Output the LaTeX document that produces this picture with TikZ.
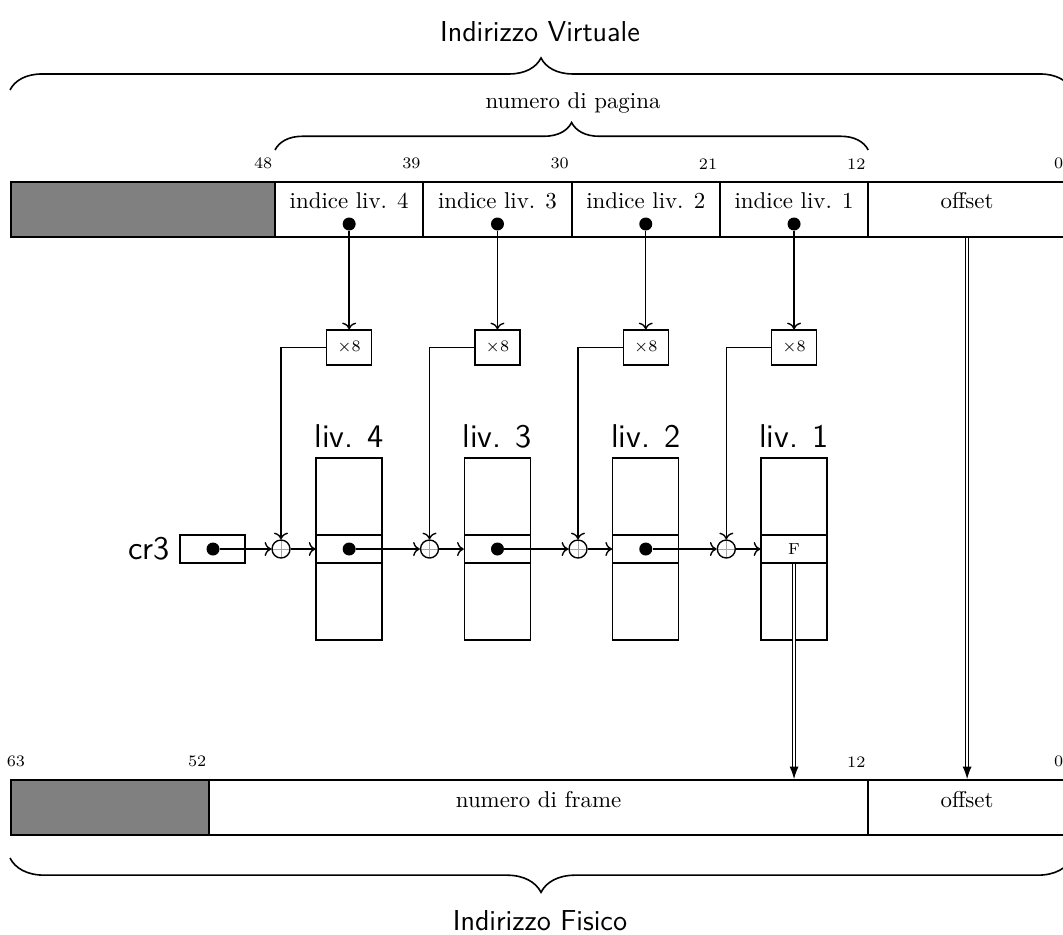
\documentclass[tikz,border=0pt]{standalone}
\usetikzlibrary{decorations.pathreplacing,arrows.meta,calc}
\newcommand\upx{0.437pt}
\begin{document}
\begin{tikzpicture}[x=0.437pt,y=-0.437pt,
  barcell/.style={draw,line width=0.8pt,inner sep=0pt,minimum height=55*\upx},
  graycell/.style={barcell,fill=gray},
  bitlbl/.style={font=\scriptsize,inner sep=1pt,anchor=south east},
  celltxt/.style={inner sep=0pt},
  dotn/.style={circle,fill=black,inner sep=0pt,minimum size=13*\upx},
  mulbox/.style={draw,line width=0.6pt,inner sep=0pt,minimum width=45*\upx,minimum height=35*\upx,font=\scriptsize},
  plusn/.style={circle,draw,line width=0.6pt,inner sep=0pt,minimum size=18*\upx,
    path picture={\draw[line width=0.3pt,gray!70]
      (path picture bounding box.north) -- (path picture bounding box.south)
      (path picture bounding box.west) -- (path picture bounding box.east);}},
  tablen/.style={draw,line width=0.6pt,inner sep=0pt,minimum width=66*\upx,minimum height=182*\upx},
  entryn/.style={draw,line width=0.6pt,inner sep=0pt,minimum width=66*\upx,minimum height=28*\upx,font=\scriptsize},
  lvl/.style={font=\sffamily\Large},
  conn/.style={line width=0.6pt,->},
  bigconn/.style={line width=0.5pt,double,double distance=0.7pt,-{Latex[length=5.5pt,width=4pt]}},
  bracedec/.style={decorate,line width=0.7pt}
]
\useasboundingbox (0,0) rectangle (1063,934);

% titles and braces
\node[font=\sffamily\fontsize{12.6}{15}\selectfont] (tv) at (540,32) {Indirizzo Virtuale};
\draw[bracedec,decoration={brace,amplitude=14pt}] (10,90) -- (1072,90);
\node (np) at (573,103) {numero di pagina};
\draw[bracedec,decoration={brace,amplitude=12pt}] (275,150) -- (868.2,150);

% top bar
\node[graycell,minimum width=263.7*\upx] (vg) at (143.15,209.5) {};
\node[barcell,minimum width=148.3*\upx] (i4) at (349.15,209.5) {};
\node[barcell,minimum width=148.3*\upx] (i3) at (497.45,209.5) {};
\node[barcell,minimum width=148.3*\upx] (i2) at (645.75,209.5) {};
\node[barcell,minimum width=148.3*\upx] (i1) at (794.05,209.5) {};
\node[barcell,minimum width=197.8*\upx] (vo) at (967.1,209.5) {};
\node[celltxt] (ti4) at (349.15,201) {indice liv. 4};
\node[celltxt] (ti3) at (497.45,201) {indice liv. 3};
\node[celltxt] (ti2) at (645.75,201) {indice liv. 2};
\node[celltxt] (ti1) at (794.05,201) {indice liv. 1};
\node[celltxt] (tvo) at (967.1,201) {offset};

\node[bitlbl] (b48) at (275,172) {48};
\node[bitlbl] (b39) at (423.3,172) {39};
\node[bitlbl] (b30) at (571.6,172) {30};
\node[bitlbl] (b21) at (719.9,172) {21};
\node[bitlbl] (b12) at (868.2,172) {12};
\node[bitlbl] (b0) at (1066,172) {0};

% dots in index cells
\node[dotn] (d4) at (349.15,224) {};
\node[dotn] (d3) at (497.45,224) {};
\node[dotn] (d2) at (645.75,224) {};
\node[dotn] (d1) at (794.05,224) {};

% x8 boxes
\node[mulbox] (m4) at (349.15,347.5) {$\times 8$};
\node[mulbox] (m3) at (497.45,347.5) {$\times 8$};
\node[mulbox] (m2) at (645.75,347.5) {$\times 8$};
\node[mulbox] (m1) at (794.05,347.5) {$\times 8$};

% adders
\node[plusn] (p4) at (281,549) {};
\node[plusn] (p3) at (429.5,549) {};
\node[plusn] (p2) at (578,549) {};
\node[plusn] (p1) at (726.3,549) {};

% tables
\node[tablen] (t4) at (349.15,549) {};
\node[tablen] (t3) at (497.45,549) {};
\node[tablen] (t2) at (645.75,549) {};
\node[tablen] (t1) at (794.05,549) {};
\node[entryn] (e4) at (349.15,549) {};
\node[entryn] (e3) at (497.45,549) {};
\node[entryn] (e2) at (645.75,549) {};
\node[entryn] (e1) at (794.05,549) {F};
\node[dotn] (ed4) at (349.15,549) {};
\node[dotn] (ed3) at (497.45,549) {};
\node[dotn] (ed2) at (645.75,549) {};
\node[lvl] (l4) at (349.15,436) {liv. 4};
\node[lvl] (l3) at (497.45,436) {liv. 3};
\node[lvl] (l2) at (645.75,436) {liv. 2};
\node[lvl] (l1) at (794.05,436) {liv. 1};

% cr3
\node[draw,line width=0.6pt,inner sep=0pt,minimum width=65*\upx,minimum height=28*\upx] (cr) at (212.5,549) {};
\node[dotn] (crd) at (213,549) {};
\node[font=\sffamily\Large,anchor=east,inner sep=0pt] (crl) at (170,549) {cr3};

% bottom bar
\node[graycell,minimum width=197.7*\upx] (pg) at (110.15,807.5) {};
\node[barcell,minimum width=659.2*\upx] (pf) at (538.6,807.5) {};
\node[barcell,minimum width=197.8*\upx] (po) at (967.1,807.5) {};
\node[celltxt] (tpf) at (538.6,800) {numero di frame};
\node[celltxt] (tpo) at (967.1,800) {offset};
\node[bitlbl] (c63) at (27.8,770) {63};
\node[bitlbl] (c52) at (209,770) {52};
\node[bitlbl] (c12) at (868.2,770) {12};
\node[bitlbl] (c0) at (1066,770) {0};

\draw[bracedec,decoration={brace,mirror,amplitude=15pt}] (10,858) -- (1072,858);
\node[font=\sffamily\fontsize{12.6}{15}\selectfont] (tf) at (540,921) {Indirizzo Fisico};

% connectors
\draw[conn] (d4) -- (m4);
\draw[conn] (d3) -- (m3);
\draw[conn] (d2) -- (m2);
\draw[conn] (d1) -- (m1);
\draw[conn] (m4.west) -| (p4.north);
\draw[conn] (m3.west) -| (p3.north);
\draw[conn] (m2.west) -| (p2.north);
\draw[conn] (m1.west) -| (p1.north);
\draw[conn] (crd) -- (p4);
\draw[conn] (p4) -- (e4);
\draw[conn] (ed4) -- (p3);
\draw[conn] (p3) -- (e3);
\draw[conn] (ed3) -- (p2);
\draw[conn] (p2) -- (e2);
\draw[conn] (ed2) -- (p1);
\draw[conn] (p1) -- (e1);
\draw[bigconn] (e1.south) -- (e1.south |- pf.north);
\draw[bigconn] (vo.south) -- (po.north);
\end{tikzpicture}
\end{document}
